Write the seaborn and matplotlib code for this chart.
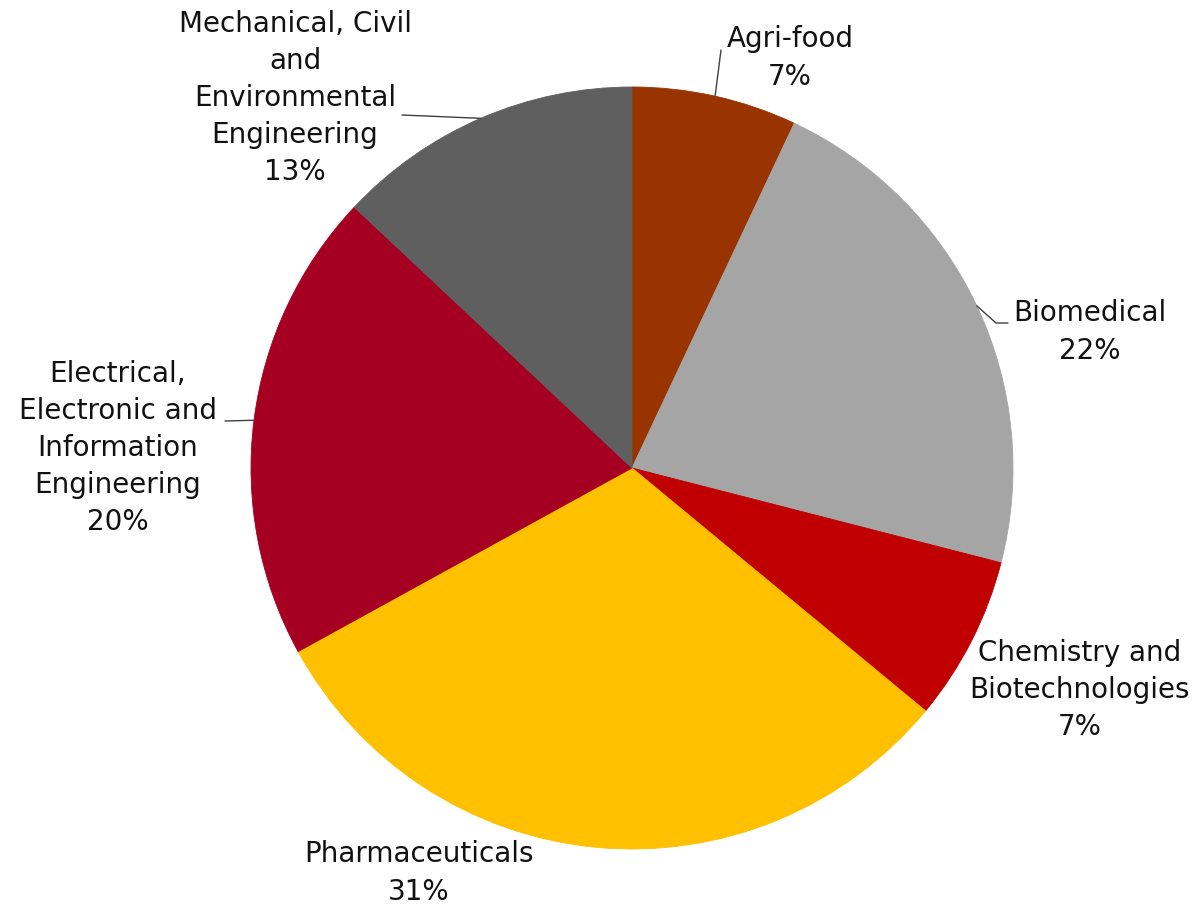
import numpy as np
import matplotlib.pyplot as plt
import seaborn as sns

# Données
categories = ["Agri-food", "Biomedical", "Chemistry and\nBiotechnologies", "Pharmaceuticals",
              "Electrical,\nElectronic and\nInformation\nEngineering",
              "Mechanical, Civil\nand\nEnvironmental\nEngineering"]
shares = [7, 22, 7, 31, 20, 13]
colors = ["#993300", "#A5A5A5", "#C00000", "#FFC000", "#A50021", "#5F5F5F"]

# Mise en page (pixels de l'image -> coordonnées du camembert)
CX, CY, R = 632, 468, 381
W, H = 1199, 907

def px(x, y):
    return (x - CX) / R, (CY - y) / R

# centre du bloc de texte et points de la ligne de rappel (côté texte)
label_pos = [(790, 58), (1090, 332), (1080, 690), (419, 873), (118, 448), (295, 98)]
leader_pts = [[(721, 50)], [(996, 323), (1008, 323)], None, None, [(225, 421)], [(402, 115)]]

sns.set_theme(style="white")
plt.rcParams["font.family"] = ["DejaVu Sans"]

fig = plt.figure(figsize=(W / 100, H / 100), dpi=100)
ax = fig.add_axes([0, 0, 1, 1])

wedges, _ = ax.pie(shares, colors=colors, startangle=90, counterclock=False, radius=1,
                   wedgeprops=dict(linewidth=0.6))
for w, c in zip(wedges, colors):
    w.set_edgecolor(c)

# pie() remet les limites à zéro : on les fixe après
ax.set_xlim(-CX / R, (W - CX) / R)
ax.set_ylim(-(H - CY) / R, CY / R)
ax.set_aspect("equal")
ax.axis("off")

for w, cat, val, pos, pts in zip(wedges, categories, shares, label_pos, leader_pts):
    ax.text(*px(*pos), f"{cat}\n{val}%", ha="center", va="center", fontsize=20,
            color="#111111", linespacing=1.42)
    if pts is not None:
        mid = np.deg2rad((w.theta1 + w.theta2) / 2)
        xs = [w.r * np.cos(mid)] + [px(*p)[0] for p in pts]
        ys = [w.r * np.sin(mid)] + [px(*p)[1] for p in pts]
        ax.plot(xs, ys, color="#404040", lw=1)

fig.savefig("out.png", dpi=100)
